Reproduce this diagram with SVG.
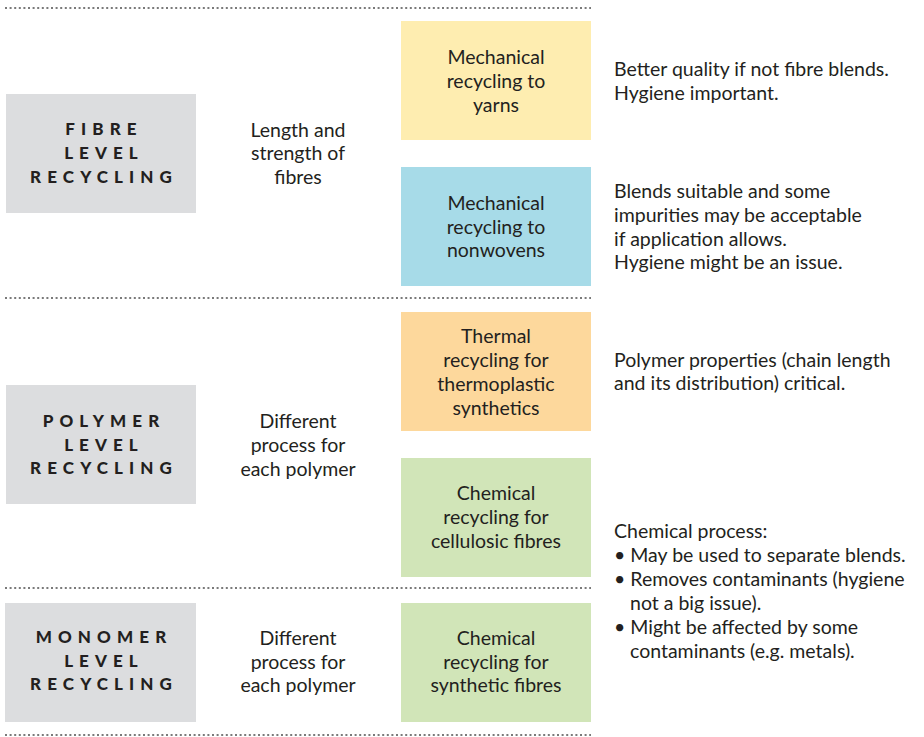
<svg xmlns="http://www.w3.org/2000/svg" width="924" height="737" viewBox="0 0 924 737">
<style>
.t{font-family:Lato,"Open Sans","Liberation Sans",sans-serif;font-size:19.5px;fill:#231f20}
.c{text-anchor:middle}
.lab{font-family:Lato,"Liberation Sans",sans-serif;font-size:17px;font-weight:900;letter-spacing:6.1px;fill:#231f20;text-anchor:middle}
.sep{stroke:#7a7a7a;stroke-width:2;stroke-dasharray:2 2.6;fill:none}
</style>
<rect width="924" height="737" fill="#fff"/>
<g id="separators">
<line class="sep" x1="5" y1="8" x2="591" y2="8"/>
<line class="sep" x1="5" y1="298" x2="591" y2="298"/>
<line class="sep" x1="5" y1="588" x2="591" y2="588"/>
<line class="sep" x1="5" y1="735" x2="591" y2="735"/>
</g>
<g id="fibre-level">
<rect x="6" y="94" width="190" height="119" fill="#dcdddf"/>
<text class="lab"><tspan x="104" y="135">FIBRE</tspan><tspan x="104" y="159">LEVEL</tspan><tspan x="104" y="183">RECYCLING</tspan></text>
</g>
<g id="fibre-criterion">
<text class="t c"><tspan x="298" y="137">Length and</tspan><tspan x="298" y="160">strength of</tspan><tspan x="298" y="184">fibres</tspan></text>
</g>
<g id="mech-yarns">
<rect x="401" y="21" width="190" height="119" fill="#feedb0"/>
<text class="t c"><tspan x="496" y="64">Mechanical</tspan><tspan x="496" y="88">recycling to</tspan><tspan x="496" y="112">yarns</tspan></text>
</g>
<g id="mech-yarns-note">
<text class="t"><tspan x="614" y="76">Better quality if not fibre blends.</tspan><tspan x="614" y="100">Hygiene important.</tspan></text>
</g>
<g id="mech-nonwovens">
<rect x="401" y="167" width="190" height="119" fill="#a7dbe8"/>
<text class="t c"><tspan x="496" y="210">Mechanical</tspan><tspan x="496" y="234">recycling to</tspan><tspan x="496" y="257">nonwovens</tspan></text>
</g>
<g id="mech-nonwovens-note">
<text class="t"><tspan x="614" y="198">Blends suitable and some</tspan><tspan x="614" y="222">impurities may be acceptable</tspan><tspan x="614" y="246">if application allows.</tspan><tspan x="614" y="269">Hygiene might be an issue.</tspan></text>
</g>
<g id="polymer-level">
<rect x="6" y="385" width="190" height="119" fill="#dcdddf"/>
<text class="lab"><tspan x="104" y="427">POLYMER</tspan><tspan x="104" y="451">LEVEL</tspan><tspan x="104" y="474">RECYCLING</tspan></text>
</g>
<g id="polymer-criterion">
<text class="t c"><tspan x="298" y="428">Different</tspan><tspan x="298" y="452">process for</tspan><tspan x="298" y="476">each polymer</tspan></text>
</g>
<g id="thermal">
<rect x="401" y="312" width="190" height="119" fill="#fdd89c"/>
<text class="t c"><tspan x="496" y="343">Thermal</tspan><tspan x="496" y="367">recycling for</tspan><tspan x="496" y="391">thermoplastic</tspan><tspan x="496" y="415">synthetics</tspan></text>
</g>
<g id="thermal-note">
<text class="t"><tspan x="614" y="367">Polymer properties (chain length</tspan><tspan x="614" y="390">and its distribution) critical.</tspan></text>
</g>
<g id="chem-cellulosic">
<rect x="401" y="458" width="190" height="119" fill="#d1e5b8"/>
<text class="t c"><tspan x="496" y="500">Chemical</tspan><tspan x="496" y="524">recycling for</tspan><tspan x="496" y="548">cellulosic fibres</tspan></text>
</g>
<g id="chemical-note">
<text class="t"><tspan x="614" y="538">Chemical process:</tspan><tspan x="614" y="562">• May be used to separate blends.</tspan><tspan x="614" y="586">• Removes contaminants (hygiene</tspan><tspan x="630" y="610">not a big issue).</tspan><tspan x="614" y="634">• Might be affected by some</tspan><tspan x="630" y="658">contaminants (e.g. metals).</tspan></text>
</g>
<g id="monomer-level">
<rect x="5" y="603" width="191" height="119" fill="#dcdddf"/>
<text class="lab"><tspan x="104" y="643">MONOMER</tspan><tspan x="104" y="667">LEVEL</tspan><tspan x="104" y="690">RECYCLING</tspan></text>
</g>
<g id="monomer-criterion">
<text class="t c"><tspan x="298" y="645">Different</tspan><tspan x="298" y="669">process for</tspan><tspan x="298" y="692">each polymer</tspan></text>
</g>
<g id="chem-synthetic">
<rect x="401" y="603" width="190" height="119" fill="#d1e5b8"/>
<text class="t c"><tspan x="496" y="645">Chemical</tspan><tspan x="496" y="669">recycling for</tspan><tspan x="496" y="692">synthetic fibres</tspan></text>
</g>
<g id="connectors"/>
</svg>
